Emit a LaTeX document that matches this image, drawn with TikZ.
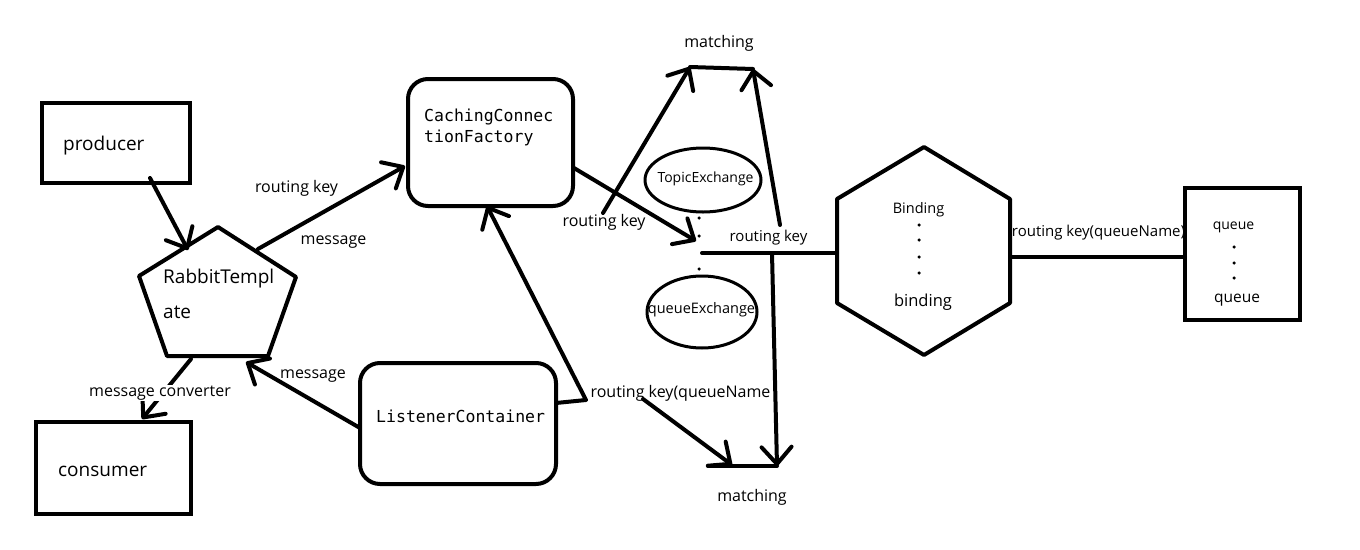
\documentclass[tikz,border=0pt]{standalone}
\usepackage{fontspec}
\setmainfont{Open Sans}
\newfontfamily\monofont{DejaVu Sans Mono}
\usetikzlibrary{arrows.meta,shapes.geometric}
\begin{document}
\begin{tikzpicture}[x=1pt,y=-1pt,
  heavy/.style={line width=4pt, line cap=round, line join=round},
  arr/.style={heavy, -{Straight Barb[length=17pt,width=30pt,round]}},
  box/.style={draw, line width=4pt, inner sep=0pt},
  rbox/.style={box, rounded corners=20pt},
  oval/.style={draw, ellipse, line width=3pt, inner sep=0pt},
  fnt/.style={inner sep=0pt, font=\fontsize{#1}{#1}\selectfont},
  mono/.style={inner sep=0pt, font=\monofont\fontsize{16.5}{21}\selectfont, align=left},
  dotc/.style={fill, circle, inner sep=0pt, minimum size=3.5pt},
]
\useasboundingbox (0,0) rectangle (1360,549);

% boxes
\node[box, minimum width=148pt, minimum height=80pt] (prod) at (116,143) {};
\node[fnt=19, anchor=west] (prodlbl) at (63,146) {producer};
\node[box, minimum width=155pt, minimum height=92pt] (cons) at (113.5,468) {};
\node[fnt=19, anchor=west] (conslbl) at (58,471) {consumer};
\node[rbox, minimum width=165pt, minimum height=127pt] (ccf) at (490.5,142.5) {};
\node[mono, anchor=north west] (ccflbl) at (424,109) {CachingConnec\\tionFactory};
\node[rbox, minimum width=196pt, minimum height=121pt] (lc) at (458,423.5) {};
\node[mono, anchor=west] (lclbl) at (376,416) {ListenerContainer};
\node[box, minimum width=115pt, minimum height=132pt] (queue) at (1242.5,254) {};
\node[fnt=14] (q1) at (1233.5,227) {queue};
\node[dotc] (qd1) at (1234,247) {};
\node[dotc] (qd2) at (1234,263) {};
\node[dotc] (qd3) at (1234,278) {};
\node[fnt=15.5] (q2) at (1237,300) {queue};

% pentagon
\coordinate (pT) at (218,227);
\coordinate (pUL) at (139,276);
\coordinate (pUR) at (296,277);
\coordinate (pBL) at (167,356);
\coordinate (pBR) at (268,356);
\draw[heavy] (pT) -- (pUR) -- (pBR) -- (pBL) -- (pUL) -- cycle;
\node[fnt=19, anchor=west] (rt1) at (163,279) {RabbitTempl};
\node[fnt=19, anchor=west] (rt2) at (163,312) {ate};

% hexagon
\coordinate (hT) at (924,147);
\coordinate (hUL) at (837,199);
\coordinate (hLL) at (837,303);
\coordinate (hB) at (924,355);
\coordinate (hLR) at (1010,303);
\coordinate (hUR) at (1010,199);
\draw[heavy] (hT) -- (hUR) -- (hLR) -- (hB) -- (hLL) -- (hUL) -- cycle;
\node[fnt=14.5] (b1) at (918.5,210) {Binding};
\node[dotc] (bd1) at (919,225) {};
\node[dotc] (bd2) at (919,240) {};
\node[dotc] (bd3) at (919,257) {};
\node[dotc] (bd4) at (919,273) {};
\node[fnt=16.5] (b2) at (923,302) {binding};

% exchanges
\node[oval, minimum width=116pt, minimum height=64pt] (topic) at (703,180) {};
\node[fnt=14] (topiclbl) at (705.5,179) {TopicExchange};
\node[oval, minimum width=110pt, minimum height=72pt] (qex) at (702,312) {};
\node[fnt=14.5] (qexlbl) at (701.5,310) {queueExchange};
\node[dotc] (xd1) at (699,218) {};
\node[dotc] (xd2) at (699,236) {};
\node[dotc] (xd3) at (699,269) {};

% matching bars
\coordinate (mt1) at (690,67);
\coordinate (mt2) at (753,69);
\draw[heavy] (mt1) -- (mt2);
\node[fnt=16] (mtl) at (719,43) {matching};
\coordinate (mb1) at (708,466);
\coordinate (mb2) at (777,466);
\draw[heavy] (mb1) -- (mb2);
\node[fnt=16] (mbl) at (752,497) {matching};

% connectors
\coordinate (a1s) at (150,178);
\coordinate (a1e) at (188,250);
\draw[arr] (a1s) -- (a1e);
\coordinate (a2s) at (258,249);
\coordinate (a2e) at (405,166);
\draw[arr] (a2s) -- (a2e);
\coordinate (a3s) at (191,359);
\coordinate (a3e) at (142,419);
\draw[arr] (a3s) -- (a3e);
\coordinate (a4s) at (360,428);
\coordinate (a4e) at (246,362);
\draw[arr] (a4s) -- (a4e);
\coordinate (a5s) at (556,403);
\coordinate (a5m) at (586,400);
\coordinate (a5e) at (487,206);
\draw[arr] (a5s) -- (a5m) -- (a5e);
\coordinate (a6s) at (574,168);
\coordinate (a6e) at (696,241);
\draw[arr] (a6s) -- (a6e);
\coordinate (a7s) at (603,213);
\draw[arr] (a7s) -- (mt1);
\coordinate (a8s) at (780,225);
\draw[arr] (a8s) -- (mt2);
\coordinate (a9s) at (643,399);
\coordinate (a9e) at (732,465);
\draw[arr] (a9s) -- (a9e);
\coordinate (jn) at (772,253);
\draw[arr] (jn) -- (mb2);
\coordinate (hl) at (702,253);
\coordinate (hexL) at (837,253);
\draw[heavy] (hl) -- (hexL);
\coordinate (hexR) at (1010,257);
\coordinate (qL) at (1185,257);
\draw[heavy] (hexR) -- (qL);

% labels
\node[fnt=16] (l1) at (296.5,188) {routing key};
\node[fnt=16] (l2) at (333.5,242) {message};
\node[fnt=16, fill=white, inner ysep=1pt] (l3) at (160,393) {message converter};
\node[fnt=16] (l4) at (313,376) {message};
\node[fnt=16] (l5) at (604,222) {routing key};
\node[fnt=15] (l6) at (768.5,238) {routing key};
\node[fnt=16] (l7) at (680.5,393) {routing key(queueName};
\node[fnt=15] (l8) at (1098.5,233) {routing key(queueName)};
\end{tikzpicture}
\end{document}
